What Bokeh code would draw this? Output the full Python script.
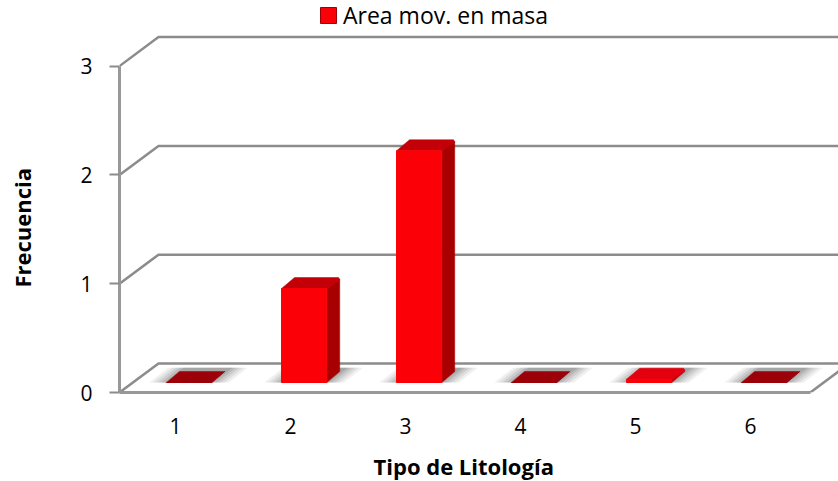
from bokeh.embed import file_html
from bokeh.models import FixedTicker, Legend, LegendItem, LinearAxis, Title
from bokeh.plotting import figure
from bokeh.resources import INLINE

# Chart values
categories = [1, 2, 3, 4, 5, 6]
frequency = [0.0, 0.864, 2.13, 0.0, 0.03, 0.0]
value_ticks = [0, 1, 2, 3]
top_colors = ["#9c0008", "#c30008", "#c30008", "#9c0008", "#e3000f", "#9c0008"]
side_colors = ["#8c0006", "#a80000", "#a80000", "#8c0006", "#c00008", "#8c0006"]
front_edges = ["#9c0008", "#fb0006", "#fb0006", "#9c0008", "#fb0006", "#9c0008"]
legend_label = "Area mov. en masa"
x_title = "Tipo de Litología"
y_title = "Frecuencia"

FONT = "Open Sans"
GRID = "#8c8c8c"
AXIS = "#989898"

# Oblique projection used for the walls, floor and bar boxes (data units)
WALL_DX, WALL_DY = 0.339, 0.2667
BOX_DX, BOX_DY = 0.113, 0.101
BAR_LEFT, BAR_RIGHT = -0.078, 0.315
BAR_BASE = 0.092
X_START, X_END = 0.513, 6.765
FLOOR_END = 6.52
Y_END = 3.603

p = figure(width=838, height=481, output_backend="svg", toolbar_location=None,
           x_range=(X_START, X_END), y_range=(0, Y_END),
           min_border_left=119, min_border_right=0, min_border_top=0, min_border_bottom=89,
           background_fill_color="white", border_fill_color="white", outline_line_color=None)
p.grid.visible = False

# Axes
p.yaxis.ticker = FixedTicker(ticks=value_ticks)
p.yaxis.bounds = (0, 3)
p.yaxis.major_label_standoff = 17
p.xaxis.ticker = FixedTicker(ticks=categories)
p.xaxis.bounds = (X_START, FLOOR_END)
p.xaxis.major_label_standoff = 25
for ax in (p.xaxis[0], p.yaxis[0]):
    ax.axis_line_color = AXIS
    ax.axis_line_width = 3
    ax.major_tick_line_color = GRID
    ax.major_tick_line_width = 2
    ax.minor_tick_line_color = None
    ax.major_tick_in = 0
    ax.major_label_text_color = "black"
    ax.major_label_text_font = FONT
    ax.major_label_text_font_size = "21px"
p.xaxis.major_tick_out = 0
p.yaxis.major_tick_out = 10

# Axis titles sit along the drawn axis segments, offset from the frame's lower left corner.
# A transparent single-tick axis with a blank label pushes each title outward.
for text, side, offset, standoff, gap in [(x_title, "below", 254, 2, 11), (y_title, "left", 105, 0, 41)]:
    p.add_layout(LinearAxis(ticker=FixedTicker(ticks=[1]), major_label_overrides={1: ""},
                            axis_line_color=None, minor_tick_line_color=None,
                            major_tick_line_color="white", major_tick_line_alpha=0,
                            major_tick_in=0, major_tick_out=gap, major_label_standoff=0,
                            major_label_text_font_size="1px"), side)
    p.add_layout(Title(text=text, align="left", offset=offset, standoff=standoff,
                       text_line_height=0.7,
                       text_font=FONT, text_font_style="bold", text_font_size="22px",
                       text_color="black"), side)

# Back wall lines and their slanted returns to the front axis
wall_xs, wall_ys = [], []
for v in value_ticks:
    wall_xs.append([X_START, X_START + WALL_DX, X_END])
    wall_ys.append([v, v + WALL_DY, v + WALL_DY])
wall_xs.append([FLOOR_END, FLOOR_END + WALL_DX])
wall_ys.append([0, WALL_DY])
p.multi_line(wall_xs, wall_ys, line_color=GRID, line_width=2.5)

# Soft shadow on the floor: stacked translucent quads widening outwards
for grow, alpha in [(0.15, 0.10), (0.115, 0.13), (0.08, 0.17), (0.045, 0.2), (0.015, 0.25)]:
    xs, ys = [], []
    for c in categories:
        l, r = c + BAR_LEFT - grow, c + BAR_RIGHT + grow
        b, t = BAR_BASE, BAR_BASE + BOX_DY * 1.35
        xs.append([l, l + BOX_DX * 1.45, r + BOX_DX * 1.45, r])
        ys.append([b, t, t, b])
    p.patches(xs, ys, fill_color="#6e6e6e", fill_alpha=alpha, line_color=None)


def box_faces(c, v):
    """Front, side and top polygons of one bar, with slightly softened top edges."""
    l, r = c + BAR_LEFT, c + BAR_RIGHT
    b, t = BAR_BASE, BAR_BASE + v
    ch = min(0.012, v / 2)
    front = ([l, l, r, r], [b, t, t, b])
    side = ([r, r, r + BOX_DX, r + BOX_DX], [b, t, t + BOX_DY - ch, b + BOX_DY])
    top = ([l, l + BOX_DX, r + BOX_DX - 0.01, r + BOX_DX, r],
           [t, t + BOX_DY, t + BOX_DY, t + BOX_DY - ch * 2, t])
    return front, side, top


faces = [box_faces(c, v) for c, v in zip(categories, frequency)]
p.patches([f[1][0] for f in faces], [f[1][1] for f in faces],
          fill_color=side_colors, line_color=side_colors, line_width=0.5)
p.patches([f[2][0] for f in faces], [f[2][1] for f in faces],
          fill_color=top_colors, line_color=top_colors, line_width=0.5)
front_r = p.patches([f[0][0] for f in faces], [f[0][1] for f in faces],
                    fill_color="#fb0006", line_color=front_edges, line_width=1)

# Legend above the plot area, keyed to the bar fronts
legend = Legend(items=[LegendItem(label=legend_label, renderers=[front_r], index=0)],
                location=(199, 361), orientation="horizontal",
                background_fill_alpha=0, border_line_color=None,
                glyph_width=20, glyph_height=20, label_standoff=5, padding=0, margin=0,
                label_text_font=FONT, label_text_font_size="23px", label_text_color="black")
p.add_layout(legend)

open("out.html", "w").write(file_html(p, INLINE))
